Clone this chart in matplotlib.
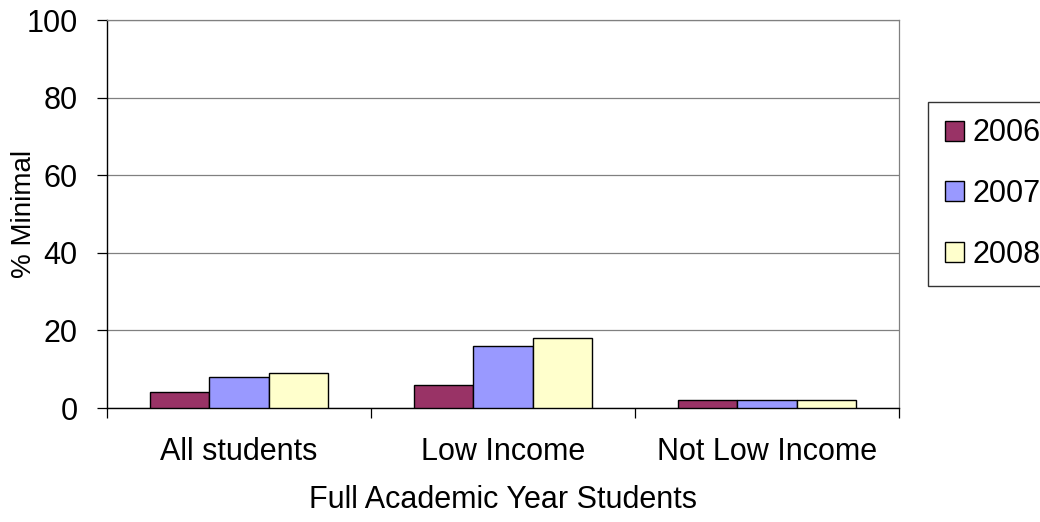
import matplotlib.pyplot as plt
import numpy as np

plt.rcParams['font.family'] = ['Liberation Sans', 'DejaVu Sans']

# % of students scoring Minimal, by group and year
categories = ["All students", "Low Income", "Not Low Income"]
years = ["2006", "2007", "2008"]
pct_2006 = [4, 6, 2]
pct_2007 = [8, 16, 2]
pct_2008 = [9, 18, 2]
colors = ["#993366", "#9999FF", "#FFFFCC"]

fig = plt.figure(figsize=(10.4, 5.22), dpi=100)
ax = fig.add_axes([107 / 1040, 1 - 408 / 522, 792 / 1040, 388 / 522])

x = np.arange(len(categories))
width = 0.2235
for i, (vals, year) in enumerate(zip([pct_2006, pct_2007, pct_2008], years)):
    ax.bar(x + (i - 1) * width, vals, width, color=colors[i],
           edgecolor="black", linewidth=1, label=year, zorder=3)

ax.set_xlim(-0.5, 2.5)
ax.set_ylim(0, 100)
ax.set_yticks(range(0, 101, 20))
ax.yaxis.grid(True, color="#808080", linewidth=0.9, zorder=0)

# category labels centred, tick marks on the boundaries
ax.set_xticks(x)
ax.set_xticklabels(categories)
ax.set_xticks(np.arange(-0.5, 3, 1), minor=True)
ax.tick_params(axis="x", which="major", length=0, pad=21, labelsize=22)
ax.tick_params(axis="x", which="minor", length=7, width=0.9, direction="out")
ax.tick_params(axis="y", length=7, width=0.9, direction="out", pad=14, labelsize=22)

for side in ["left", "bottom"]:
    ax.spines[side].set_color("black")
    ax.spines[side].set_linewidth(1)
for side in ["top", "right"]:
    ax.spines[side].set_color("#808080")
    ax.spines[side].set_linewidth(0.9)

ax.set_xlabel("Full Academic Year Students", fontsize=22, labelpad=13)
ax.set_ylabel("% Minimal", fontsize=20)
ax.yaxis.set_label_coords(-0.088, 0.5)

# legend runs past the right edge of the figure
leg = fig.legend(loc="center left", bbox_to_anchor=(928 / 1040, 1 - 194 / 522),
                 fontsize=22, frameon=True, fancybox=False, shadow=False,
                 handlelength=0.62, handleheight=0.62, handletextpad=0.3,
                 labelspacing=1.0, borderpad=0.55, borderaxespad=0)
leg.get_frame().set_edgecolor("black")
leg.get_frame().set_linewidth(1)

fig.savefig("out.png", dpi=100)
